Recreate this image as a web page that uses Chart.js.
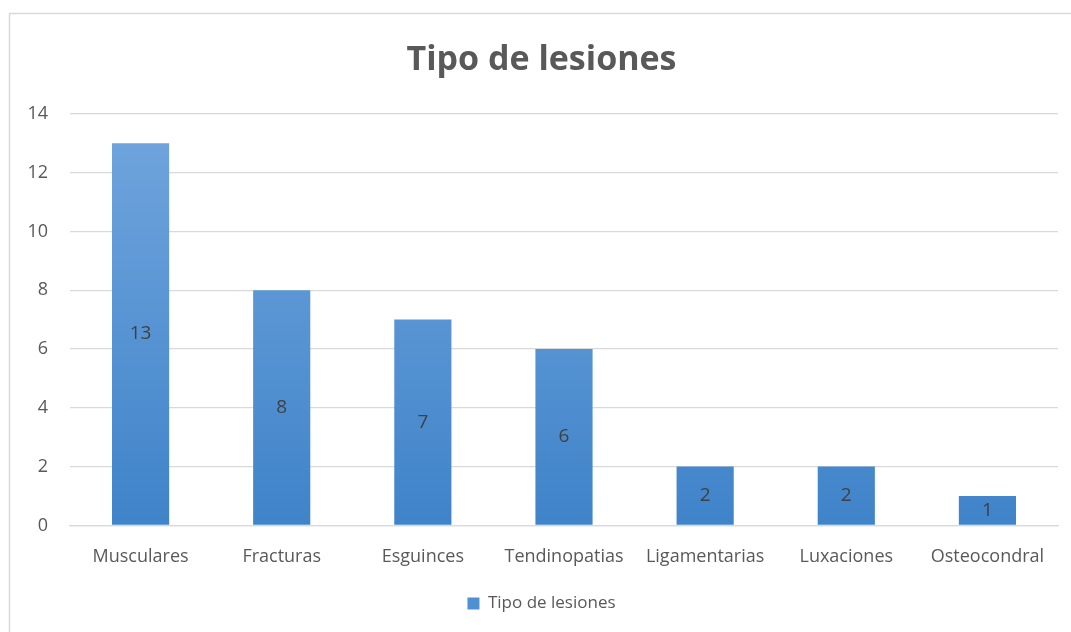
<!DOCTYPE html>
<html>
<head>
<meta charset="utf-8">
<script src="https://cdn.jsdelivr.net/npm/chart.js@4.4.0/dist/chart.umd.min.js"></script>
<style>
  html, body { margin: 0; padding: 0; background: #fff; }
  #wrap { width: 1071px; height: 632px; }
</style>
</head>
<body>
<div id="wrap"><canvas id="lesionesChart"></canvas></div>
<script>
const categories = ['Musculares', 'Fracturas', 'Esguinces', 'Tendinopatias', 'Ligamentarias', 'Luxaciones', 'Osteocondral'];
const values = [13, 8, 7, 6, 2, 2, 1];
const seriesName = 'Tipo de lesiones';
const yTicks = [0, 2, 4, 6, 8, 10, 12, 14];

const fontFam = "'Open Sans', 'Liberation Sans', sans-serif";
const textGray = '#595959';

// gradient fill like the office chart
const barFill = function (context) {
    const chart = context.chart;
    const area = chart.chartArea;
    if (!area) return '#5b9bd5';
    const g = chart.ctx.createLinearGradient(0, area.top, 0, area.bottom);
    g.addColorStop(0, '#72a6de');
    g.addColorStop(1, '#3f83c9');
    return g;
};

// outer frame
const framePlugin = {
    id: 'frame',
    beforeDraw(chart) {
        const c = chart.ctx;
        c.save();
        c.strokeStyle = '#d9d9d9';
        c.lineWidth = 1.5;
        c.strokeRect(9.5, 13.5, chart.width + 20, chart.height + 20);
        c.restore();
    }
};

// value labels in the middle of each bar
const valueLabels = {
    id: 'valueLabels',
    afterDatasetsDraw(chart) {
        const c = chart.ctx;
        const meta = chart.getDatasetMeta(0);
        c.save();
        c.font = '19px ' + fontFam;
        c.fillStyle = '#404040';
        c.textAlign = 'center';
        c.textBaseline = 'middle';
        meta.data.forEach(function (bar, i) {
            const mid = (bar.y + bar.base) / 2;
            c.fillText(String(values[i]), bar.x, mid);
        });
        c.restore();
    }
};

const ctx = document.getElementById('lesionesChart').getContext('2d');

const myChart = new Chart(ctx, {
    type: 'bar',
    data: {
        labels: categories,
        datasets: [{
            label: seriesName,
            data: values,
            backgroundColor: barFill,
            borderWidth: 0,
            barPercentage: 1,
            categoryPercentage: 0.405
        }]
    },
    options: {
        responsive: true,
        maintainAspectRatio: false,
        animation: false,
        layout: {
            padding: { left: 25, right: 13, top: 40, bottom: 10 }
        },
        scales: {
            y: {
                min: 0,
                max: 14,
                afterBuildTicks: function (axis) {
                    axis.ticks = yTicks.map(function (v) { return { value: v }; });
                },
                afterFit: function (axis) {
                    axis.width = 45;
                },
                grid: { color: '#d9d9d9', lineWidth: 1.3, drawTicks: false },
                border: { display: false },
                ticks: {
                    color: textGray,
                    padding: 22,
                    font: { family: fontFam, size: 18 }
                }
            },
            x: {
                grid: { display: false },
                border: { color: '#d9d9d9', width: 1.3 },
                ticks: {
                    color: textGray,
                    padding: 13,
                    maxRotation: 0,
                    autoSkip: false,
                    font: { family: fontFam, size: 18 }
                }
            }
        },
        plugins: {
            title: {
                display: true,
                text: 'Tipo de lesiones',
                color: textGray,
                font: { family: fontFam, size: 34, weight: 'bold' },
                padding: { top: 0, bottom: 33 }
            },
            legend: {
                position: 'bottom',
                labels: {
                    color: textGray,
                    boxWidth: 12,
                    boxHeight: 12,
                    padding: 14,
                    font: { family: fontFam, size: 17 },
                    generateLabels: function () {
                        return [{ text: seriesName, fillStyle: '#4f90d3', strokeStyle: '#4f90d3', lineWidth: 0, datasetIndex: 0, fontColor: textGray }];
                    }
                }
            },
            tooltip: { enabled: false }
        }
    },
    plugins: [framePlugin, valueLabels]
});
</script>
</body>
</html>
